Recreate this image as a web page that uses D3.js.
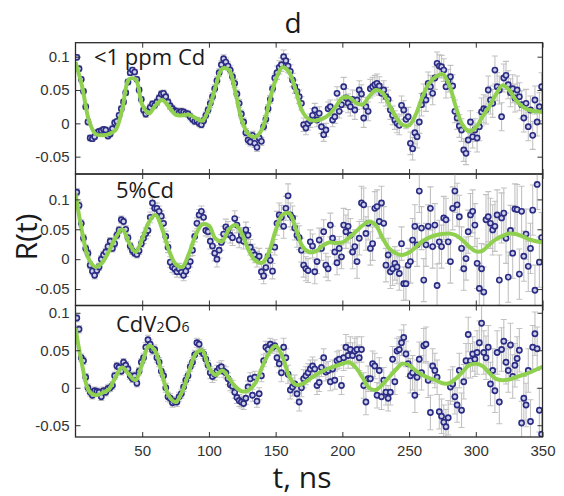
<!DOCTYPE html>
<html>
<head>
<meta charset="utf-8">
<script src="https://cdnjs.cloudflare.com/ajax/libs/d3/7.8.5/d3.min.js"></script>
<style>
  body { margin: 0; background: #fff; }
  svg text { font-family: "Open Sans", sans-serif; fill: #1a1a1a; }
  .axis text { font-family: "Liberation Sans", Arial, sans-serif; font-size: 15px; fill: #333; }
  .axis line { stroke: #333; stroke-width: 1; }
  .axis path { display: none; }
</style>
</head>
<body>
<div id="chart-area"></div>
<script>
//============================DATA============================
// R(t), in units of 0.001
// measurements sit on a regular grid: t = tStart + i * tStep (ns)
var tStart = 1, tStep = 5 / 3;
// fit curves were read every fitStep ns, starting at t = 0
var fitStep = 5;

var panelNames = ["<1 ppm Cd", "5%Cd", "CdV2O6"];

var xTicks = [50, 100, 150, 200, 250, 300, 350];
var yTicks = [-50, 0, 50, 100];
var yTickLabels = ["-0.05", "0", "0.05", "0.1"];

// error bar half-length for each 50 ns stretch
var errLowCd = [4, 5, 6, 10, 14, 17, 21];
var err5Cd = [6, 9, 13, 20, 28, 36, 42];
var errCdV2O6 = [5, 6, 8, 12, 17, 23, 29];

var fitLowCd = [92, 55, 5, -16, -18, -16, -10, 20, 66, 66,
  28, 15, 27, 35, 25, 13, 12, 13, 8, 4,
  22, 55, 82, 80, 45, 2, -17, -20, -8, 30,
  65, 84, 77, 50, 18, 6, 4, 7, 13, 25,
  38, 39, 31, 28, 40, 50, 46, 28, 10, -2,
  -3, 13, 40, 60, 70, 74, 58, 25, -2, -12,
  -6, 10, 25, 43, 57, 50, 35, 25, 20, 18, 17];

var fit5Cd = [110, 45, 0, -13, -6, 13, 36, 50, 28, 12,
  34, 62, 74, 50, 15, -8, -13, 9, 40, 58,
  56, 34, 30, 50, 57, 41, 14, -3, -6, 12,
  48, 74, 77, 52, 22, 12, 13, 22, 28, 27,
  28, 36, 46, 56, 63, 57, 36, 18, 10, 7,
  11, 20, 30, 36, 40, 42, 43, 40, 32, 21,
  13, 14, 24, 33, 39, 43, 42, 38, 33, 30, 28];

var fitCdV2O6 = [80, 30, -4, -10, -7, -2, 14, 27, 18, 10,
  32, 56, 48, 17, -11, -19, -5, 21, 45, 50,
  27, 17, 23, 13, 1, -5, -3, 7, 28, 46,
  56, 42, 16, 4, 5, 11, 17, 22, 26, 29,
  32, 34, 27, 14, 0, -3, 4, 14, 24, 32,
  30, 23, 17, 13, 10, 6, 6, 12, 21, 30,
  32, 29, 20, 12, 10, 11, 14, 17, 20, 24, 28];

var dataLowCd = [99, 82, 66, 48, 25, 2,
  -22, -23, -20, -14, -12, -11,
  -9, -10, -19, -16, -8, 1,
  3, 12, 22, 32, 46, 62,
  76, 80, 77, 66, 50, 36,
  20, 14, 18, 24, 29, 27,
  32, 38, 44, 45, 40, 32,
  26, 22, 19, 18, 16, 18,
  17, 15, 14, 10, 6, 3,
  4, 0, -2, 4, 12, 20,
  30, 40, 52, 64, 76, 88,
  97, 92, 86, 80, 70, 60,
  44, 30, 14, 2, -14, -25,
  -28, -18, -30, -36, -22, -27,
  -5, 6, 22, 36, 52, 68,
  76, 84, 88, 100, 94, 86,
  78, 65, 55, 48, 40, 30,
  -2, -7, 0, 4, 12, 20,
  5, 15, -5, -17, -10, 22,
  25, 5, 10, 45, 18, 28,
  55, 38, 30, 25, 36, 20,
  35, 50, 44, 8, 25, 18,
  52, 55, 58, 60, 56, 45,
  50, 40, 36, 20, 12, 5,
  0, -3, 27, 20, 6, 10,
  -30, -38, -14, -20, 2, 28,
  42, 35, 60, 55, 45, 68,
  90, 86, 85, 80, 55, 64,
  70, 56, 18, 8, -4, -10,
  -40, -45, -25, 2, -20, -10,
  -22, -5, 17, 22, 20, 50,
  35, 30, 80, 55, 50, 10,
  68, 72, 58, 46, 52, 38,
  50, 40, 28, 8, 30, -5,
  20, -18, 35, 2, 25, 55];

var data5Cd = [112, 90, 60, 35, 18, 10,
  -10, -20, -27, -19, -13, 0,
  7, 12, 21, 30, 18, 26,
  40, 49, 66, 63, 50, 36,
  22, 14, 10, 8, 14, 26,
  35, 43, 48, 70, 94, 85,
  85, 80, 72, 60, 38, 20,
  -5, -13, -16, -21, -16, -22,
  -27, -20, -12, -4, 15, 38,
  60, 74, 80, 70, 48, 46,
  30, 22, 10, 0, 15, 28,
  42, 54, 50, 40, 36, 68,
  57, 32, 40, 30, 49, 40,
  20, 12, 7, 0, 5, -21,
  -28, -14, 5, -2, -20, 20,
  60, 74, 70, 55, 85, 106,
  74, 69, 52, 40, 36, 15,
  -10, -16, -19, 29, 22, -21,
  -4, 32, 18, 46, -10, -16,
  57, 35, 12, -6, 18, 4,
  57, 46, 55, 40, 12, 21,
  -4, 35, 94, 91, 43, 60,
  18, 26, 85, 88, 63, 94,
  60, -10, 7, -21, -16, -7,
  -13, -24, 26, -41, -41, -10,
  -4, 32, 55, 24, 114, 52,
  -35, 24, 55, 85, 21, 57,
  -44, 29, 21, 69, 66, 29,
  -4, 85, 114, 91, 71, 18,
  -16, 1, 46, 74, 80, 57,
  -7, -49, -16, -55, 66, 71,
  60, 49, 55, 74, -35, 69,
  77, 35, -30, 48, 10, 84,
  83, -25, 80, 5, 42, -12,
  18, 82, -52, 125, -5, 36];

var dataCdV2O6 = [93, 78, 40, 36, 14, 0,
  -6, -10, -4, -5, -6, -12,
  -4, -6, -1, 0, 3, 16,
  29, 27, 22, 34, 30, 25,
  16, 12, 16, 6, 22, 34,
  40, 54, 64, 58, 50, 51,
  40, 34, 22, 16, 0, -12,
  -14, -20, -18, -19, -12, -8,
  1, 10, 16, 28, 34, 44,
  60, 58, 48, 45, 38, 30,
  20, 15, 18, 22, 26, 28,
  22, 20, 12, 4, 2, -6,
  -13, -17, -19, -21, -14, 1,
  12, -10, 14, -18, -8, 16,
  36, 54, 51, 58, 54, 56,
  40, 32, 20, 54, 40, 18,
  -3, 1, 5, -8, -19, 0,
  12, 16, 20, 25, 29, 25,
  3, 7, 27, 40, 21, 23,
  8, 25, 10, 36, 38, 3,
  40, 54, 43, 51, 43, 49,
  51, 40, 51, 3, -19, 12,
  12, 32, 29, -10, 23, -12,
  10, -6, -14, -6, 38, 8,
  49, 51, 60, 67, 45, 32,
  16, 20, -10, 14, 38, 20,
  56, 58, 10, -33, 29, 23,
  14, -32, -38, -46, -52, -40,
  1, 5, -12, -23, 23, -30,
  8, 36, 71, 36, 45, 38,
  47, 60, 86, 47, 40, 54,
  5, 23, -4, 47, -19, 51,
  62, 34, 23, 57, 15, 30,
  39, 50, -47, -14, -23, 23,
  -45, 54, 72, 52, -30, -62];

//============================LAYOUT============================
var width = 564, height = 496;
var left = 75.5, right = 542.5;

// one entry per panel: vertical placement and y limits (x 0.001)
var panels = [
  { name: panelNames[0], data: dataLowCd, fit: fitLowCd, err: errLowCd,
    top: 42.7, bottom: 174, ymin: -76, ymax: 121, labelY: 65 },
  { name: panelNames[1], data: data5Cd, fit: fit5Cd, err: err5Cd,
    top: 174, bottom: 305.5, ymin: -77.5, ymax: 142.5, labelY: 198 },
  { name: panelNames[2], data: dataCdV2O6, fit: fitCdV2O6, err: errCdV2O6,
    top: 305.5, bottom: 437, ymin: -65.7, ymax: 109.7, labelY: 332 }
];

var svg = d3.select("#chart-area")
    .append("svg")
    .attr("width", width)
    .attr("height", height);

var x = d3.scaleLinear()
    .domain([0, 350])
    .range([left, right]);

svg.append("text")
    .attr("x", 293)
    .attr("y", 33)
    .attr("text-anchor", "middle")
    .attr("font-size", "28px")
    .text("d");

svg.append("text")
    .attr("transform", "translate(37,237) rotate(-90)")
    .attr("text-anchor", "middle")
    .attr("font-size", "30px")
    .text("R(t)");

svg.append("text")
    .attr("x", 302)
    .attr("y", 488)
    .attr("text-anchor", "middle")
    .attr("font-size", "30px")
    .text("t, ns");

panels.forEach(function(p, k) {
    var y = d3.scaleLinear()
        .domain([p.ymin, p.ymax])
        .range([p.bottom, p.top]);

    var points = p.data.map(function(v, i) {
        var t = tStart + i * tStep;
        return { t: t, r: v, e: p.err[Math.min(p.err.length - 1, Math.floor(t / 50))] };
    });
    var fitPts = p.fit.map(function(v, i) { return [i * fitStep, v]; });

    svg.append("clipPath")
        .attr("id", "clip" + k)
        .append("rect")
        .attr("x", left)
        .attr("y", p.top)
        .attr("width", right - left)
        .attr("height", p.bottom - p.top);

    var g = svg.append("g").attr("clip-path", "url(#clip" + k + ")");

    // error bars
    var bars = g.append("g")
        .attr("stroke", "#c2c2c2")
        .attr("stroke-width", 1.1)
        .selectAll("g")
        .data(points)
        .enter()
        .append("g");

    bars.append("line")
        .attr("x1", function(d) { return x(d.t); })
        .attr("x2", function(d) { return x(d.t); })
        .attr("y1", function(d) { return y(d.r - d.e); })
        .attr("y2", function(d) { return y(d.r + d.e); });
    bars.append("line")
        .attr("x1", function(d) { return x(d.t) - 3; })
        .attr("x2", function(d) { return x(d.t) + 3; })
        .attr("y1", function(d) { return y(d.r + d.e); })
        .attr("y2", function(d) { return y(d.r + d.e); });
    bars.append("line")
        .attr("x1", function(d) { return x(d.t) - 3; })
        .attr("x2", function(d) { return x(d.t) + 3; })
        .attr("y1", function(d) { return y(d.r - d.e); })
        .attr("y2", function(d) { return y(d.r - d.e); });

    // data points
    g.append("g")
        .selectAll("circle")
        .data(points)
        .enter()
        .append("circle")
        .attr("cx", function(d) { return x(d.t); })
        .attr("cy", function(d) { return y(d.r); })
        .attr("r", 2.6)
        .attr("fill", "#cfd0ea")
        .attr("stroke", "#2b2c84")
        .attr("stroke-width", 1.6);

    // fit
    var line = d3.line()
        .x(function(d) { return x(d[0]); })
        .y(function(d) { return y(d[1]); })
        .curve(d3.curveCatmullRom.alpha(0.5));

    g.append("path")
        .datum(fitPts)
        .attr("fill", "none")
        .attr("stroke", "#8fd14f")
        .attr("stroke-width", 4)
        .attr("stroke-linejoin", "round")
        .attr("d", line);

    // ticks, all pointing inward
    svg.append("g")
        .attr("class", "axis")
        .attr("transform", "translate(" + left + ",0)")
        .call(d3.axisLeft(y).tickValues(yTicks)
            .tickFormat(function(d, i) { return yTickLabels[i]; })
            .tickSize(-5).tickPadding(6));

    svg.append("g")
        .attr("class", "axis")
        .attr("transform", "translate(" + right + ",0)")
        .call(d3.axisRight(y).tickValues(yTicks).tickFormat("").tickSize(-5));

    svg.append("g")
        .attr("class", "axis")
        .attr("transform", "translate(0," + p.top + ")")
        .call(d3.axisTop(x).tickValues(xTicks).tickFormat("").tickSize(-5));

    svg.append("g")
        .attr("class", "axis")
        .attr("transform", "translate(0," + p.bottom + ")")
        .call(d3.axisBottom(x).tickValues(xTicks)
            .tickFormat(k === panels.length - 1 ? d3.format("d") : "")
            .tickSize(-5).tickPadding(8));

    svg.append("rect")
        .attr("x", left)
        .attr("y", p.top)
        .attr("width", right - left)
        .attr("height", p.bottom - p.top)
        .attr("fill", "none")
        .attr("stroke", "#2a2a2a")
        .attr("stroke-width", 1.3);

    // panel label, with small digits for the formula
    var label = svg.append("text")
        .attr("x", k === 0 ? 94 : 116)
        .attr("y", p.labelY)
        .attr("font-size", "22px");
    if (p.name === "CdV2O6") {
        label.append("tspan").text("CdV");
        label.append("tspan").attr("font-size", "14px").text("2");
        label.append("tspan").text("O");
        label.append("tspan").attr("font-size", "14px").text("6");
    } else {
        label.text(p.name);
    }
});
</script>
</body>
</html>
